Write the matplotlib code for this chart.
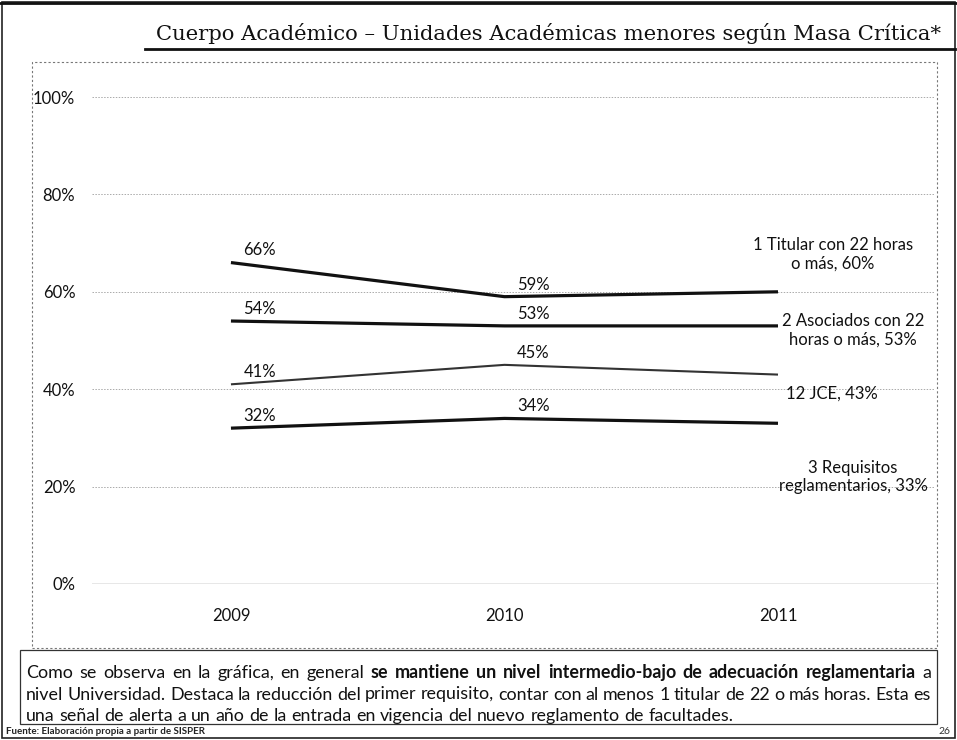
import matplotlib
matplotlib.use("Agg")
import matplotlib.pyplot as plt
from matplotlib.patches import Rectangle
from matplotlib.lines import Line2D

plt.rcParams['font.family'] = ['Lato', 'DejaVu Sans']

# datos
years = ['2009', '2010', '2011']
titular = [66, 59, 60]
asociados = [54, 53, 53]
jce = [41, 45, 43]
requisitos = [32, 34, 33]
yticks = [0, 20, 40, 60, 80, 100]

series = [
    (titular, '1 Titular con 22 horas\no más, 60%', 2.3, '#111111'),
    (asociados, '2 Asociados con 22\nhoras o más, 53%', 2.3, '#111111'),
    (jce, '12 JCE, 43%', 1.5, '#333333'),
    (requisitos, '3 Requisitos\nreglamentarios, 33%', 2.3, '#111111'),
]
# posicion de la etiqueta de cada serie (px desde la izquierda, desde arriba)
label_pos = [(833, 254), (853, 330), (832, 394), (853, 477)]

W, H = 957, 740
fig = plt.figure(figsize=(W / 100, H / 100), dpi=100)

def fx(x):
    return x / W

def fy(y):
    return 1 - y / H

# marco de la diapositiva
fig.add_artist(Rectangle((fx(2), fy(738)), fx(953), 736 / H, fill=False,
                         edgecolor='#222222', lw=1.2, transform=fig.transFigure))
fig.add_artist(Line2D([fx(0), fx(957)], [fy(3), fy(3)], color='#111111', lw=2,
                      transform=fig.transFigure))

# titulo
fig.text(fx(549), fy(40), 'Cuerpo Académico \u2013 Unidades Académicas menores según Masa Crítica*',
         family='DejaVu Serif', fontsize=15.2, ha='center', va='baseline', color='#111111')
fig.add_artist(Line2D([fx(145), fx(955)], [fy(49), fy(49)], color='#111111', lw=2,
                      transform=fig.transFigure))

# caja del grafico
fig.add_artist(Rectangle((fx(32), fy(648)), fx(905), 586 / H, fill=False,
                         edgecolor='#777777', lw=0.8, ls=(0, (2, 2)),
                         transform=fig.transFigure))

ax = fig.add_axes([fx(92), fy(584), fx(843), 487 / H])
x = range(len(years))
for vals, name, lw, col in series:
    ax.plot(x, vals, color=col, lw=lw, solid_capstyle='butt')
    for i in range(2):
        ax.annotate(f'{vals[i]}%', (i, vals[i]), xytext=(9, 3), textcoords='offset points',
                    fontsize=12, color='#111111', va='bottom')

for (vals, name, lw, col), (px, py) in zip(series, label_pos):
    fig.text(fx(px), fy(py), name, ha='center', va='center', fontsize=12,
             color='#111111', linespacing=1.2)

ax.set_xlim(-0.508, 2.574)
ax.set_ylim(0, 100)
ax.set_yticks(yticks)
ax.set_yticklabels([f'{v}%' for v in yticks], fontsize=12, color='#111111')
ax.set_xticks(list(x))
ax.set_xticklabels(years, fontsize=12, color='#111111')
ax.tick_params(length=0)
ax.tick_params(axis='y', pad=12)
ax.tick_params(axis='x', pad=17)
for s in ax.spines.values():
    s.set_visible(False)
ax.grid(axis='y', color='#aaaaaa', lw=0.7, ls=(0, (1.5, 1.5)))
ax.axhline(0, color='#888888', lw=1)
ax.patch.set_alpha(0)

# caja de texto
fig.add_artist(Rectangle((fx(20), fy(724)), fx(917), 74 / H, fill=False,
                         edgecolor='#333333', lw=0.9, transform=fig.transFigure))

# texto justificado palabra por palabra
body = [
    ([('Como se observa en la gráfica, en general', 'normal'),
      ('se mantiene un nivel intermedio-bajo de adecuación reglamentaria', 'bold'),
      ('a', 'normal')], True),
    ([('nivel Universidad. Destaca la reducción del primer requisito, contar con al menos 1 titular de 22 o más horas.  Esta es', 'normal')], True),
    ([('una señal de alerta a un año de la entrada en vigencia del nuevo reglamento de facultades.', 'normal')], False),
]
renderer = fig.canvas.get_renderer()
x0, x1 = 26, 931
fs = 12.9
t1 = fig.text(0, 0, 'a b', fontsize=fs)
t2 = fig.text(0, 0, 'ab', fontsize=fs)
space = t1.get_window_extent(renderer).width - t2.get_window_extent(renderer).width
t1.remove()
t2.remove()
for k, (parts, justify) in enumerate(body):
    words = [(w, wt) for txt, wt in parts for w in txt.split()]
    arts = []
    for w, wt in words:
        t = fig.text(0, fy(678 + 21.5 * k), w, fontsize=fs, weight=wt, va='baseline',
                     color='#111111')
        arts.append(t)
    widths = [a.get_window_extent(renderer).width for a in arts]
    gap = (x1 - x0 - sum(widths)) / (len(arts) - 1) if justify else space
    pos = x0
    for a, wd in zip(arts, widths):
        a.set_x(fx(pos))
        pos += wd + gap

fig.text(fx(6), fy(731), 'Fuente: Elaboración propia a partir de SISPER', fontsize=7,
         weight='bold', va='center', color='#222222')
fig.text(fx(950), fy(731), '26', fontsize=7.5, ha='right', va='center', color='#333333')

fig.savefig('out.png', dpi=100)
